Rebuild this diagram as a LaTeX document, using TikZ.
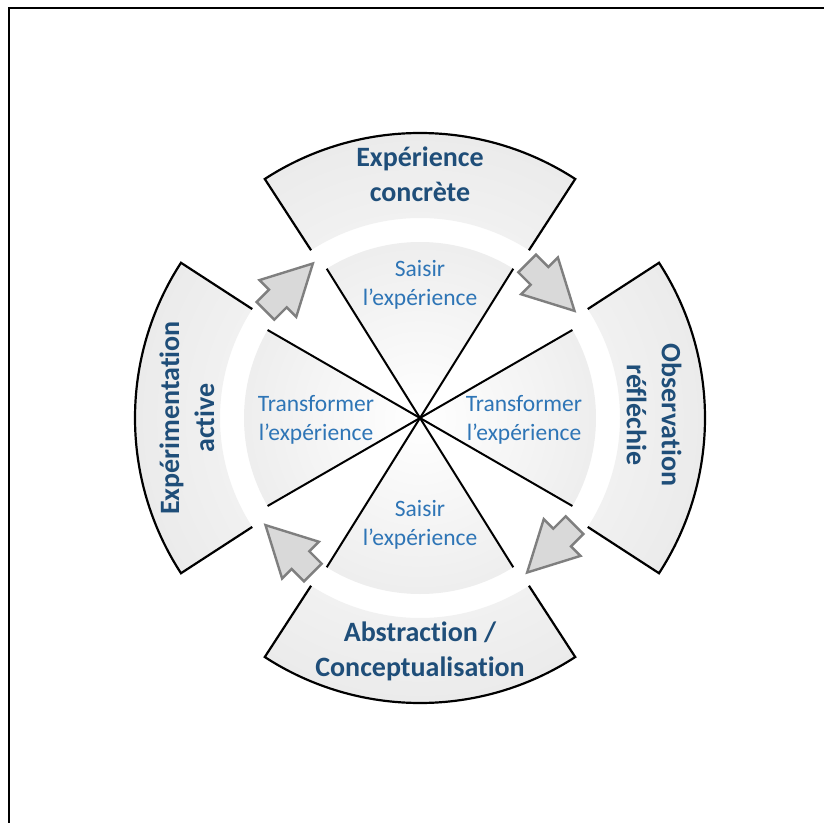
\documentclass[tikz,border=0pt]{standalone}
\usepackage{fontspec}
\setmainfont{Carlito}[Ligatures=NoCommon]
\definecolor{titleblue}{HTML}{1F4E79}
\definecolor{textblue}{HTML}{2E75B6}
\definecolor{arrowfill}{HTML}{D9D9D9}
\definecolor{arrowline}{HTML}{7F7F7F}
\pgfdeclareradialshading{segshade}{\pgfpoint{0bp}{0bp}}{color(0bp)=(white); color(35bp)=(gray!22); color(50bp)=(gray!34); color(75bp)=(gray!34)}
\pgfdeclareradialshading{discshade}{\pgfpoint{0bp}{0bp}}{color(0bp)=(white); color(50bp)=(gray!27); color(75bp)=(gray!27)}
\begin{document}
\begin{tikzpicture}[x=1pt,y=1pt,
  seg/.style={draw=black, line width=2.2pt, line join=miter},
  wedgeline/.style={draw=black, line width=2pt},
  blockarrow/.style={fill=arrowfill, draw=arrowline, line width=2.4pt, line join=miter},
  title/.style={text=titleblue, font=\fontsize{28}{35}\selectfont\bfseries, align=center, inner sep=0pt},
  innertext/.style={text=textblue, font=\fontsize{23.5}{29}\selectfont, align=center, inner sep=0pt},
  frameline/.style={draw=black, line width=2pt}]
\useasboundingbox (0,0) rectangle (824,823);
\fill[white] (0,0) rectangle (824,823);
\coordinate (FT) at (824,815);
\coordinate (FC) at (9,815);
\coordinate (FB) at (9,0);
\draw[frameline] (FT) -- (FC) -- (FB);
\coordinate (C) at (420,405);
\begin{scope}[shift={(C)}]
  % outer segments
  \foreach \a in {90,0,-90,180}{
    \begin{scope}
      \clip (\a-33:200) -- (\a-33:285) arc[start angle=\a-33, end angle=\a+33, radius=285] -- (\a+33:200) arc[start angle=\a+33, end angle=\a-33, radius=200] -- cycle;
      \shade[shading=segshade] (0,0) circle (285);
    \end{scope}
    \draw[seg] (\a-33:200) -- (\a-33:285) arc[start angle=\a-33, end angle=\a+33, radius=285] -- (\a+33:200);
  }
  % inner disc wedges
  \begin{scope}
    \clip (0,0) -- (58:176) arc[start angle=58, end angle=122, radius=176] -- cycle
          (0,0) -- (150:176) arc[start angle=150, end angle=210, radius=176] -- cycle
          (0,0) -- (238:176) arc[start angle=238, end angle=302, radius=176] -- cycle
          (0,0) -- (-30:176) arc[start angle=-30, end angle=30, radius=176] -- cycle;
    \shade[shading=discshade] (0,0) circle (176);
  \end{scope}
  \foreach \b in {30,58,122,150,210,238,302,330}{
    \draw[wedgeline] (0,0) -- (\b:176);
  }
  % block arrows
  \foreach \t in {135,45,-45,-135}{
    \draw[blockarrow, shift={(\t:185)}, rotate=\t-90]
      (-33.5,12.5) -- (-16,12.5) -- (-16,26) -- (33.5,0) -- (-16,-26) -- (-16,-12.5) -- (-33.5,-12.5) -- cycle;
  }
\end{scope}
\node[title] (ec) at (420,648.5) {Expérience\\concrète};
\node[title, rotate=-90] (or) at (654,408) {Observation\\réfléchie};
\node[title] (ac) at (420,172) {Abstraction /\\Conceptualisation};
\node[title, rotate=90] (ea) at (187,405) {Expérimentation\\active};
\node[innertext] (st) at (420,538) {Saisir\\l’expérience};
\node[innertext] (sb) at (420,298) {Saisir\\l’expérience};
\node[innertext] (tl) at (316,403) {Transformer\\l’expérience};
\node[innertext] (tr) at (524,403) {Transformer\\l’expérience};
\end{tikzpicture}
\end{document}
